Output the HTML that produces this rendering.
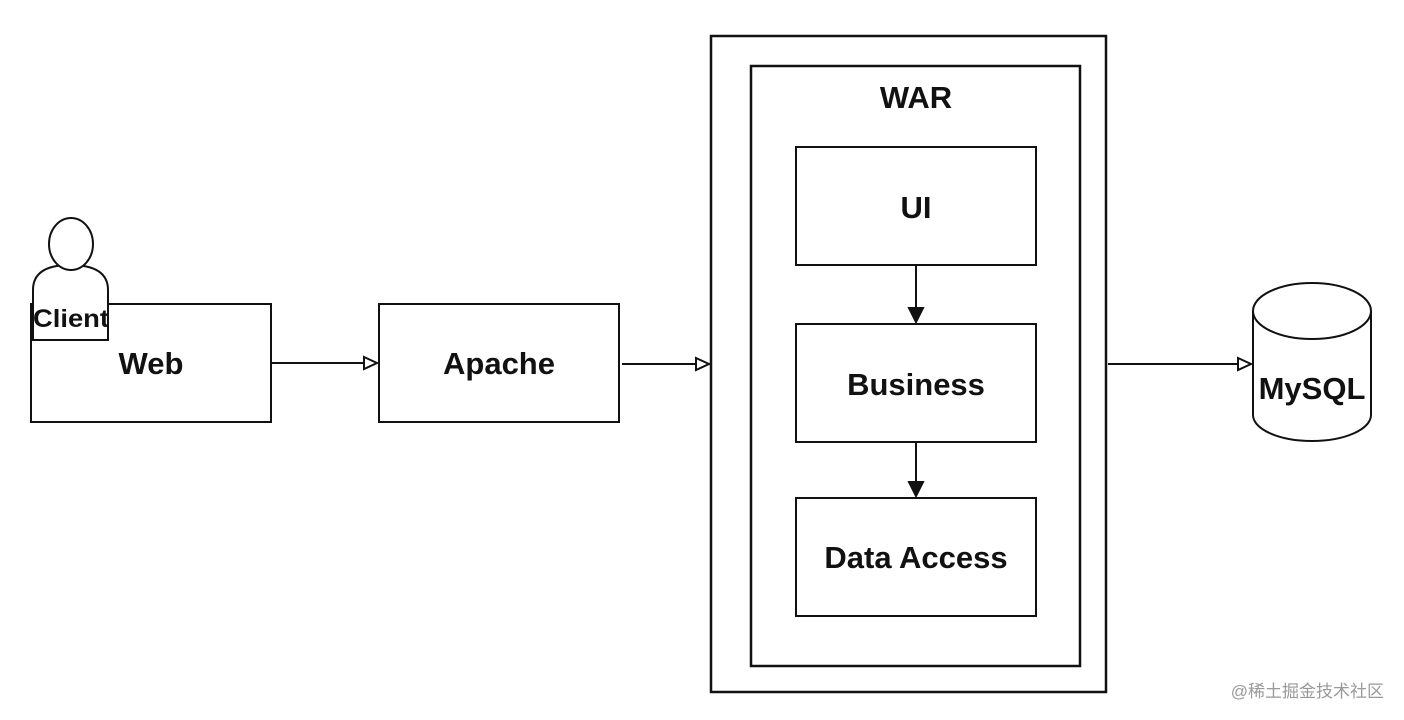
<!DOCTYPE html>
<html><head><meta charset="utf-8"><style>
html,body{margin:0;padding:0;background:#fff;width:1404px;height:720px;overflow:hidden}
text{font-family:"Liberation Sans",Arial,sans-serif;font-weight:bold;fill:#111}
</style></head><body>
<svg width="1404" height="720" viewBox="0 0 1404 720" xmlns="http://www.w3.org/2000/svg">
<g fill="none" stroke="#111" stroke-width="2">
<rect x="31" y="304" width="240" height="118"/>
<rect x="379" y="304" width="240" height="118"/>
<rect x="711" y="36" width="395" height="656" stroke-width="2.5"/>
<rect x="751" y="66" width="329" height="600" stroke-width="2.5"/>
<rect x="796" y="147" width="240" height="118"/>
<rect x="796" y="324" width="240" height="118"/>
<rect x="796" y="498" width="240" height="118"/>
<line x1="272" y1="363" x2="376" y2="363"/>
<path d="M364 357 L377 363 L364 369 Z" fill="#fff"/>
<line x1="622" y1="364" x2="708" y2="364"/>
<path d="M696 358 L709 364 L696 370 Z" fill="#fff"/>
<line x1="1108" y1="364" x2="1250" y2="364"/>
<path d="M1238 358 L1251 364 L1238 370 Z" fill="#fff"/>
<line x1="916" y1="266" x2="916" y2="320"/>
<path d="M909 308 L916 322 L923 308 Z" fill="#111"/>
<line x1="916" y1="443" x2="916" y2="494"/>
<path d="M909 482 L916 496 L923 482 Z" fill="#111"/>
<path d="M1253 311 L1253 415 A59 26 0 0 0 1371 415 L1371 311" fill="#fff"/>
<ellipse cx="1312" cy="311" rx="59" ry="28" fill="#fff"/>
<path d="M33 340 L33 290 Q33 265 70 265 Q108 265 108 290 L108 340 Z" fill="#fff"/>
<ellipse cx="71" cy="244" rx="22" ry="26" fill="#fff"/>
</g>
<text x="151" y="374" font-size="31" text-anchor="middle">Web</text>
<text x="71" y="327" font-size="25" text-anchor="middle" textLength="76" lengthAdjust="spacingAndGlyphs">Client</text>
<text x="499" y="374" font-size="31" text-anchor="middle">Apache</text>
<text x="916" y="108" font-size="31" text-anchor="middle">WAR</text>
<text x="916" y="218" font-size="31" text-anchor="middle">UI</text>
<text x="916" y="395" font-size="31" text-anchor="middle">Business</text>
<text x="916" y="568" font-size="31" text-anchor="middle">Data Access</text>
<text x="1312" y="399" font-size="31" text-anchor="middle">MySQL</text>
<text x="1384" y="697" font-size="17" text-anchor="end" style="font-weight:normal;fill:#999;font-family:'Liberation Sans','Noto Sans CJK SC',sans-serif">@稀土掘金技术社区</text>
</svg>
</body></html>
